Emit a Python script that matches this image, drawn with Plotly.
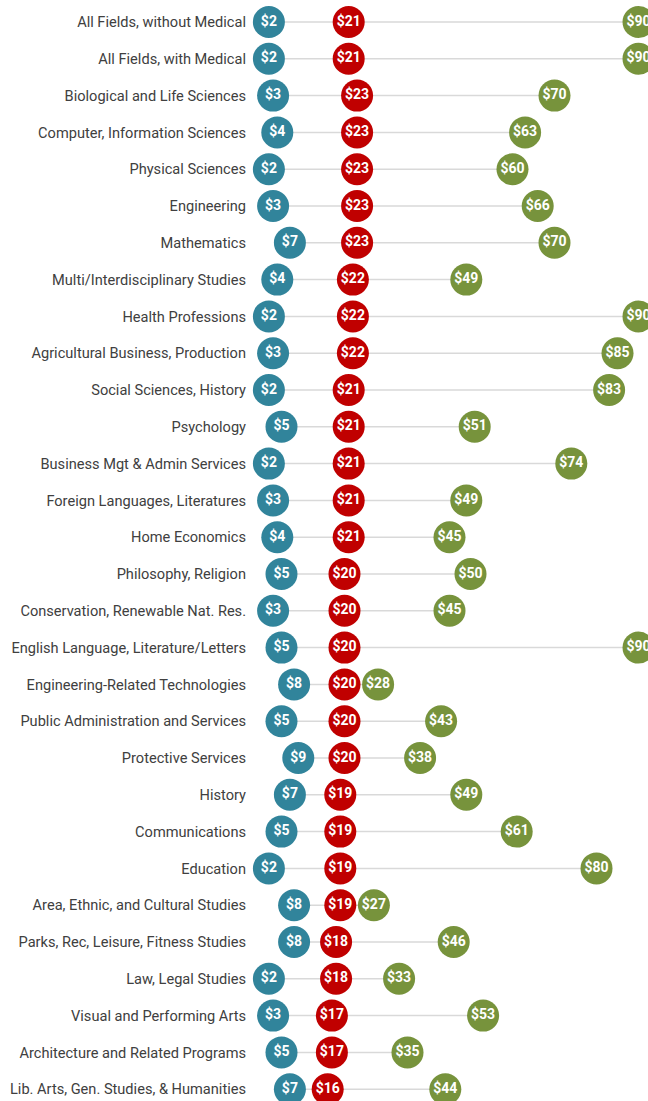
import plotly.graph_objects as go

categories = [
    "All Fields, without Medical",
    "All Fields, with Medical",
    "Biological and Life Sciences",
    "Computer, Information Sciences",
    "Physical Sciences",
    "Engineering",
    "Mathematics",
    "Multi/Interdisciplinary Studies",
    "Health Professions",
    "Agricultural Business, Production",
    "Social Sciences, History",
    "Psychology",
    "Business Mgt & Admin Services",
    "Foreign Languages, Literatures",
    "Home Economics",
    "Philosophy, Religion",
    "Conservation, Renewable Nat. Res.",
    "English Language, Literature/Letters",
    "Engineering-Related Technologies",
    "Public Administration and Services",
    "Protective Services",
    "History",
    "Communications",
    "Education",
    "Area, Ethnic, and Cultural Studies",
    "Parks, Rec, Leisure, Fitness Studies",
    "Law, Legal Studies",
    "Visual and Performing Arts",
    "Architecture and Related Programs",
    "Lib. Arts, Gen. Studies, & Humanities",
]
low_values = [2, 2, 3, 4, 2, 3, 7, 4, 2, 3, 2, 5, 2, 3, 4, 5, 3, 5, 8, 5, 9, 7, 5, 2, 8, 8, 2, 3, 5, 7]
mid_values = [21, 21, 23, 23, 23, 23, 23, 22, 22, 22, 21, 21, 21, 21, 21, 20, 20, 20, 20, 20, 20, 19, 19, 19, 19, 18, 18, 17, 17, 16]
high_values = [90, 90, 70, 63, 60, 66, 70, 49, 90, 85, 83, 51, 74, 49, 45, 50, 45, 90, 28, 43, 38, 49, 61, 80, 27, 46, 33, 53, 35, 44]

BLUE = "#31849B"
RED = "#C00000"
GREEN = "#77933C"
LINE = "#D9D9D9"

fig = go.Figure()

# connector lines
lx, ly = [], []
for c, lo, hi in zip(categories, low_values, high_values):
    lx += [lo, hi, None]
    ly += [c, c, None]
fig.add_trace(go.Scatter(x=lx, y=ly, mode="lines",
                         line=dict(color=LINE, width=1.5),
                         hoverinfo="skip", showlegend=False))

def dots(vals, color):
    return go.Scatter(
        x=vals, y=categories, mode="markers+text",
        marker=dict(size=32, color=color, line=dict(width=0)),
        text=[f"${v}" for v in vals],
        textposition="middle center",
        textfont=dict(family="Roboto", size=14, color="white", weight="bold"),
        showlegend=False, cliponaxis=True,
    )

fig.add_trace(dots(high_values, GREEN))
fig.add_trace(dots(low_values, BLUE))
fig.add_trace(dots(mid_values, RED))

row_h = 36.8
top_px = 22
H = 1101
a = -top_px / row_h
b = a + H / row_h

fig.update_layout(
    width=648, height=1101,
    margin=dict(l=252, r=0, t=0, b=0),
    plot_bgcolor="white", paper_bgcolor="white",
    xaxis=dict(range=[-2.02, 92.26], visible=False, showgrid=False, zeroline=False),
    yaxis=dict(type="category", categoryorder="array", categoryarray=categories,
               range=[b, a], showgrid=False, zeroline=False, showline=False,
               ticks="", ticklabelstandoff=5,
               tickfont=dict(family="Roboto", size=14.6, color="#404040")),
)

fig.write_html("out.html", config={"displayModeBar": False},
               post_script="document.body.style.margin='0';document.body.style.overflow='hidden';")
